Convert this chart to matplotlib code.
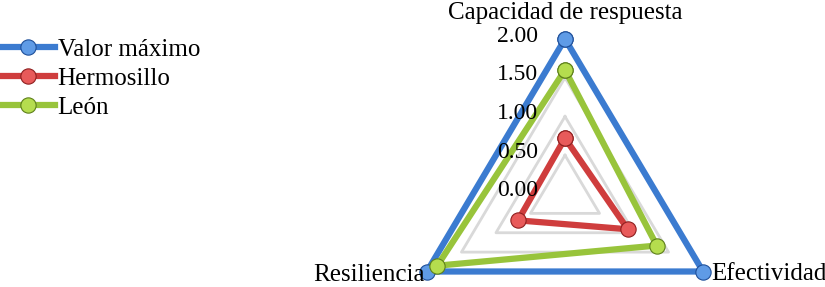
import numpy as np
import matplotlib.pyplot as plt
from matplotlib.transforms import offset_copy

plt.rcParams["font.family"] = "Liberation Serif"

categories = ["Capacidad de respuesta", "Efectividad", "Resiliencia"]
valor_max = [2.0, 2.0, 2.0]
hermosillo = [0.72, 0.91, 0.68]
leon = [1.60, 1.33, 1.85]
ticks = [0.0, 0.5, 1.0, 1.5, 2.0]

series = [("Valor máximo", valor_max, "#3b7bd0", "#5f9be6", "#1f4f99"),
          ("Hermosillo", hermosillo, "#cf3d3d", "#e85a5a", "#8e1f1f"),
          ("León", leon, "#98c43b", "#b5dd4e", "#5d7f1a")]

angles = np.linspace(0, 2 * np.pi, len(categories), endpoint=False)
ang = np.append(angles, angles[0])

fig = plt.figure(figsize=(8.25, 2.87), dpi=100)
W, H = 825, 287
cx, cy, rx, ry = 565, 194, 159.4, 155
ax = fig.add_axes([(cx - rx) / W, (H - cy - ry) / H, 2 * rx / W, 2 * ry / H],
                  projection="polar")
ax.set_aspect("auto")
ax.set_theta_offset(np.pi / 2)
ax.set_theta_direction(-1)
ax.set_ylim(0, 2)
ax.grid(False)
ax.spines["polar"].set_visible(False)
ax.set_xticks([])
ax.set_yticks([])
ax.patch.set_visible(False)

# triangular grid
for t in ticks[1:]:
    ax.plot(ang, [t] * len(ang), color="#d9d9d9", lw=2, zorder=1, clip_on=False)

for name, vals, col, face, edge in series:
    v = list(vals) + vals[:1]
    ax.plot(ang, v, color=col, lw=4.5, marker="o", markersize=11,
            markerfacecolor=face, markeredgecolor=edge, markeredgewidth=0.8,
            solid_joinstyle="miter", label=name, clip_on=False, zorder=3)

# radial tick labels
tr = offset_copy(ax.transData, fig=fig, x=-27, y=3, units="dots")
for t in ticks:
    ax.text(0, t, "%.2f" % t, transform=tr, ha="right", va="center", fontsize=17)

# category labels
offs = [(0, 26, "center"), (8, -2, "left"), (-2, -3, "right")]
for a, lab, (dx, dy, ha) in zip(angles, categories, offs):
    ax.text(a, 2.0, lab, transform=offset_copy(ax.transData, fig=fig, x=dx, y=dy, units="dots"),
            ha=ha, va="center", fontsize=18)

fig.legend(loc="upper left", bbox_to_anchor=(0.0, 0.865), frameon=False,
           fontsize=18, handlelength=2.2, handletextpad=0.1, labelspacing=0.25,
           borderaxespad=0, borderpad=0)

fig.savefig("out.png", dpi=100)
